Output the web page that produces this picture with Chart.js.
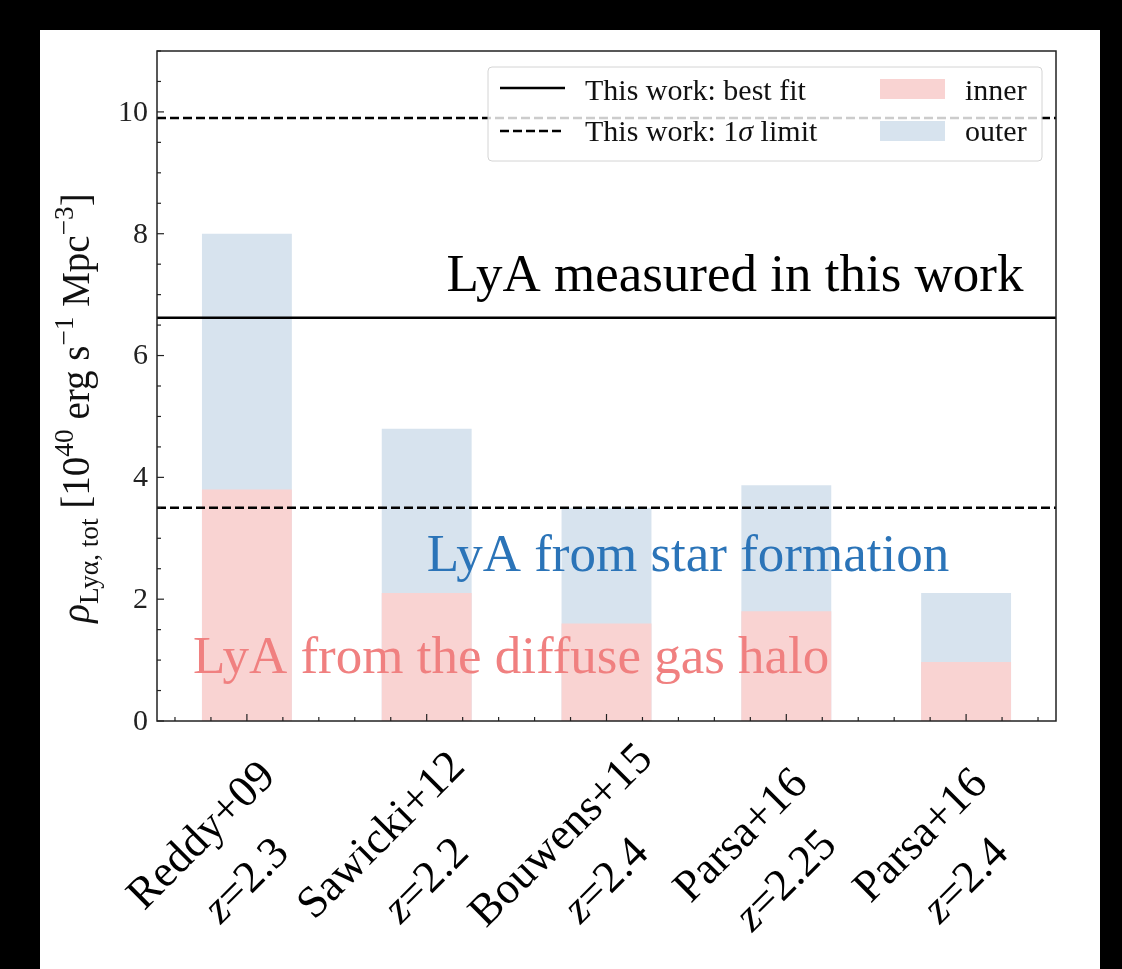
<!DOCTYPE html>
<html>
<head>
<meta charset="utf-8">
<script src="https://cdn.jsdelivr.net/npm/chart.js@4.4.0/dist/chart.umd.min.js"></script>
<style>
html, body { margin: 0; padding: 0; background: #000; }
#wrap { position: absolute; left: 40px; top: 30px; width: 1060px; height: 939px; background: #fff; }
</style>
</head>
<body>
<div id="wrap"><canvas id="myChart" width="1060" height="939"></canvas></div>
<script>
var surveys = ['Reddy+09', 'Sawicki+12', 'Bouwens+15', 'Parsa+16', 'Parsa+16'];
var redshifts = ['2.3', '2.2', '2.4', '2.25', '2.4'];
var innerValues = [3.8, 2.1, 1.6, 1.8, 0.97];
var totalValues = [8.0, 4.8, 3.5, 3.87, 2.1];
var bestFit = 6.62;
var sigmaLimits = [3.5, 9.9];
var yTicks = [0, 2, 4, 6, 8, 10];

var innerColor = '#f9d3d2';
var outerColor = '#d7e3ee';

function font(size, italic) {
    return (italic ? 'italic ' : '') + size + 'px "Liberation Serif", "DejaVu Serif", serif';
}

function richWidth(ctx, parts) {
    var w = 0;
    parts.forEach(function (p) {
        ctx.font = font(p.size, p.italic);
        w += ctx.measureText(p.text).width;
    });
    return w;
}

function drawRich(ctx, parts, x, y, align) {
    var w = richWidth(ctx, parts);
    var cx = x;
    if (align === 'center') cx = x - w / 2;
    if (align === 'right') cx = x - w;
    ctx.textAlign = 'left';
    parts.forEach(function (p) {
        ctx.font = font(p.size, p.italic);
        ctx.fillText(p.text, cx, y + (p.shift || 0));
        cx += ctx.measureText(p.text).width;
    });
}

var overlay = {
    id: 'overlay',
    afterDraw: function (chart) {
        var ctx = chart.ctx;
        var xs = chart.scales.x;
        var ys = chart.scales.y;
        var a = chart.chartArea;
        ctx.save();

        // horizontal lines
        ctx.strokeStyle = '#000';
        ctx.lineWidth = 2.6;
        ctx.setLineDash([]);
        ctx.beginPath();
        ctx.moveTo(a.left, ys.getPixelForValue(bestFit));
        ctx.lineTo(a.right, ys.getPixelForValue(bestFit));
        ctx.stroke();
        ctx.setLineDash([9, 4]);
        sigmaLimits.forEach(function (v) {
            ctx.beginPath();
            ctx.moveTo(a.left, ys.getPixelForValue(v));
            ctx.lineTo(a.right, ys.getPixelForValue(v));
            ctx.stroke();
        });
        ctx.setLineDash([]);

        // annotations
        ctx.textBaseline = 'alphabetic';
        ctx.textAlign = 'left';
        ctx.font = font(53);
        ctx.fillStyle = '#000';
        ctx.fillText('LyA measured in this work', xs.getPixelForValue(1.11), ys.getPixelForValue(7.06));
        ctx.fillStyle = '#2b74b8';
        ctx.fillText('LyA from star formation', xs.getPixelForValue(1.0), ys.getPixelForValue(2.47));
        ctx.fillStyle = '#f08080';
        ctx.fillText('LyA from the diffuse gas halo', xs.getPixelForValue(-0.3), ys.getPixelForValue(0.79));

        // legend
        var lx = 448, ly = 37, lw = 554, lh = 94;
        ctx.fillStyle = 'rgba(255,255,255,0.8)';
        ctx.strokeStyle = '#d4d4d4';
        ctx.lineWidth = 1;
        ctx.beginPath();
        ctx.roundRect(lx, ly, lw, lh, 4);
        ctx.fill();
        ctx.stroke();
        ctx.strokeStyle = '#000';
        ctx.lineWidth = 2.6;
        ctx.beginPath();
        ctx.moveTo(lx + 12, ly + 21); ctx.lineTo(lx + 77, ly + 21);
        ctx.stroke();
        ctx.setLineDash([9, 4]);
        ctx.beginPath();
        ctx.moveTo(lx + 12, ly + 64); ctx.lineTo(lx + 77, ly + 64);
        ctx.stroke();
        ctx.setLineDash([]);
        ctx.fillStyle = innerColor;
        ctx.fillRect(lx + 392, ly + 12, 65, 20);
        ctx.fillStyle = outerColor;
        ctx.fillRect(lx + 392, ly + 54, 65, 20);
        ctx.fillStyle = '#111';
        drawRich(ctx, [{ text: 'This work: best fit', size: 30 }], lx + 97, ly + 33, 'left');
        drawRich(ctx, [{ text: 'This work: 1', size: 30 }, { text: 'σ', size: 30, italic: true }, { text: ' limit', size: 30 }], lx + 97, ly + 74, 'left');
        drawRich(ctx, [{ text: 'inner', size: 30 }], lx + 477, ly + 33, 'left');
        drawRich(ctx, [{ text: 'outer', size: 30 }], lx + 477, ly + 74, 'left');

        // spines
        ctx.strokeStyle = '#222';
        ctx.lineWidth = 1.5;
        ctx.strokeRect(a.left, a.top, a.right - a.left, a.bottom - a.top);

        // y ticks (inward)
        ctx.lineWidth = 1.2;
        for (var v = 0; v <= 11; v += 0.5) {
            var py = ys.getPixelForValue(v);
            var len = (v % 2 === 0) ? 7 : 4;
            ctx.beginPath();
            ctx.moveTo(a.left, py); ctx.lineTo(a.left + len, py);
            ctx.stroke();
        }
        // x ticks (inward)
        for (var k = -2; k <= 22; k++) {
            var xv = k * 0.2;
            var px = xs.getPixelForValue(xv);
            var l2 = (k % 5 === 0) ? 7 : 4;
            ctx.beginPath();
            ctx.moveTo(px, a.bottom); ctx.lineTo(px, a.bottom - l2);
            ctx.stroke();
        }

        // y tick labels
        ctx.fillStyle = '#222';
        ctx.font = font(30);
        ctx.textAlign = 'right';
        ctx.textBaseline = 'middle';
        yTicks.forEach(function (t) {
            ctx.fillText(String(t), a.left - 9, ys.getPixelForValue(t) + 1);
        });

        // y axis label
        ctx.save();
        ctx.translate(49, (a.top + a.bottom) / 2 + 22);
        ctx.rotate(-Math.PI / 2);
        ctx.textBaseline = 'alphabetic';
        ctx.fillStyle = '#111';
        var S = 39;
        drawRich(ctx, [
            { text: 'ρ', size: S, italic: true },
            { text: 'Lyα, tot', size: S * 0.7, shift: S * 0.22 },
            { text: ' [10', size: S },
            { text: '40', size: S * 0.7, shift: -S * 0.4 },
            { text: ' erg s', size: S },
            { text: '−1', size: S * 0.7, shift: -S * 0.4 },
            { text: ' Mpc', size: S },
            { text: '−3', size: S * 0.7, shift: -S * 0.4 },
            { text: ']', size: S }
        ], 0, 0, 'center');
        ctx.restore();

        // x tick labels, rotated 45 degrees
        ctx.fillStyle = '#000';
        ctx.textBaseline = 'middle';
        surveys.forEach(function (name, i) {
            var px = xs.getPixelForValue(i);
            ctx.save();
            ctx.translate(px - 22, a.bottom + 138);
            ctx.rotate(-Math.PI / 4);
            drawRich(ctx, [{ text: name, size: 45 }], 0, -32, 'center');
            drawRich(ctx, [{ text: 'z', size: 45, italic: true }, { text: '=' + redshifts[i], size: 45 }], 0, 32, 'center');
            ctx.restore();
        });

        ctx.restore();
    }
};

var ctx = document.getElementById('myChart');
var chart = new Chart(ctx, {
    type: 'bar',
    data: {
        labels: surveys,
        datasets: [
            {
                label: 'inner',
                data: innerValues,
                backgroundColor: innerColor,
                grouped: false,
                categoryPercentage: 1,
                barPercentage: 0.5
            },
            {
                label: 'outer',
                data: totalValues,
                backgroundColor: outerColor,
                grouped: false,
                categoryPercentage: 1,
                barPercentage: 0.5
            }
        ]
    },
    options: {
        responsive: false,
        animation: false,
        layout: { padding: { left: 117, right: 44, top: 21, bottom: 248 } },
        plugins: { legend: { display: false }, tooltip: { enabled: false } },
        scales: {
            x: { display: false, offset: true },
            y: { display: false, min: 0, max: 11 }
        }
    },
    plugins: [overlay]
});
</script>
</body>
</html>
